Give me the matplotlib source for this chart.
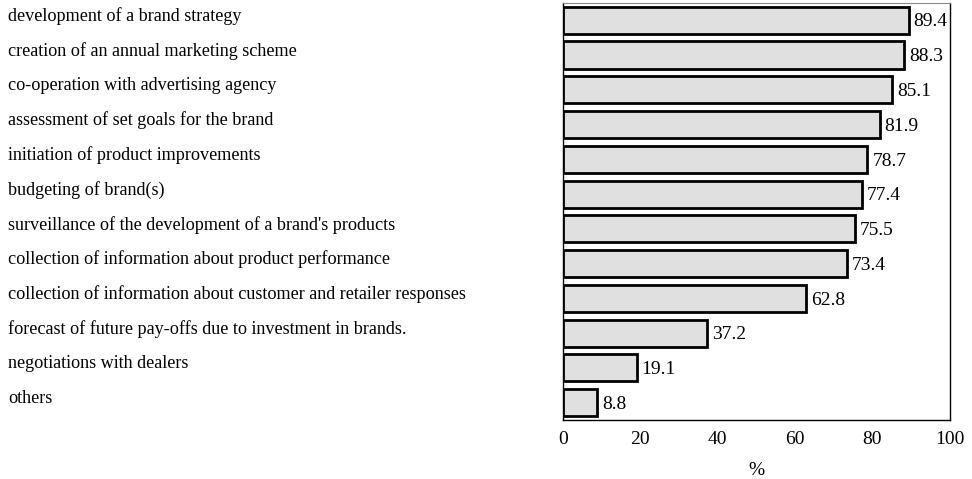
import matplotlib.pyplot as plt
from matplotlib.transforms import blended_transform_factory

# dados
categorias = [
    "development of a brand strategy",
    "creation of an annual marketing scheme",
    "co-operation with advertising agency",
    "assessment of set goals for the brand",
    "initiation of product improvements",
    "budgeting of brand(s)",
    "surveillance of the development of a brand's products",
    "collection of information about product performance",
    "collection of information about customer and retailer responses",
    "forecast of future pay-offs due to investment in brands.",
    "negotiations with dealers",
    "others",
]
valores = [89.4, 88.3, 85.1, 81.9, 78.7, 77.4, 75.5, 73.4, 62.8, 37.2, 19.1, 8.8]
ticks_x = [0, 20, 40, 60, 80, 100]

plt.rcParams['font.family'] = ['Liberation Serif', 'DejaVu Serif']

fig = plt.figure(figsize=(9.72, 4.79), dpi=100)
ax = fig.add_axes([0.579, 0.123, 0.398, 0.871])

pos = list(range(len(categorias)))
ax.barh(pos, valores, height=0.78, color='#e0e0e0', edgecolor='black', linewidth=2.0)
ax.set_ylim(len(categorias) - 0.5, -0.5)
ax.set_xlim(0, 100)
ax.set_yticks([])
ax.set_xticks(ticks_x)
ax.tick_params(axis='x', length=0, labelsize=14, pad=8)
ax.set_xlabel('%', fontsize=14, labelpad=10)

ax.spines['top'].set_color('#888888')
for s in ['left', 'bottom', 'right']:
    ax.spines[s].set_color('black')
    ax.spines[s].set_linewidth(1.0)

# rótulos dos valores
for p, v in zip(pos, valores):
    ax.text(v + 1.3, p + 0.05, f'{v:.1f}', va='center', ha='left', fontsize=14)

# rótulos das categorias à esquerda
trans = blended_transform_factory(fig.transFigure, ax.transData)
for p, c in zip(pos, categorias):
    ax.text(8 / 972, p - 0.12, c, transform=trans, va='center', ha='left', fontsize=13.1)

fig.savefig('out.png', dpi=100)
